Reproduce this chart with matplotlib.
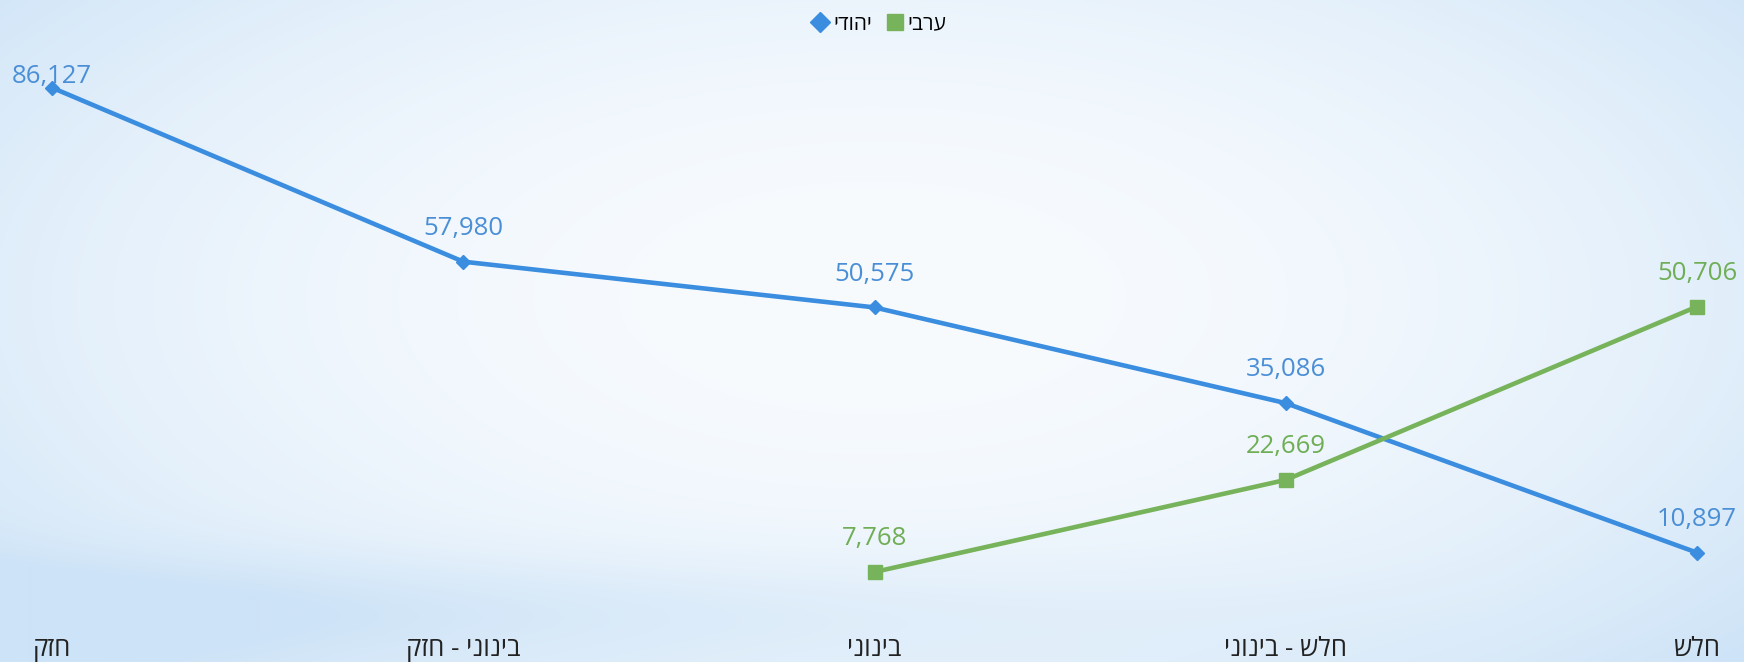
import matplotlib.pyplot as plt
import matplotlib.lines as mlines
import numpy as np

# categories in logical (right-to-left) order: rightmost first
categories = ['חלש', 'חלש - בינוני', 'בינוני', 'בינוני - חזק', 'חזק']
jewish = [10897, 35086, 50575, 57980, 86127]
arab = [50706, 22669, 7768, None, None]
series_names = ['יהודי', 'ערבי']

BLUE = '#3b8ddf'
GREEN = '#77b35a'
BLUE_TXT = '#4a8fd6'
GREEN_TXT = '#6fae55'
FONT = ['Open Sans', 'DejaVu Sans']


def vis(s):
    # matplotlib lays text out left to right, so flip Hebrew to visual order
    return s[::-1]


fig = plt.figure(figsize=(17.44, 6.62), dpi=100)

# soft blue/white backdrop
bg = fig.add_axes([0, 0, 1, 1], zorder=0)
h, w = 331, 872
yy, xx = np.mgrid[0:h, 0:w]
xn = xx / (w - 1)
yn = yy / (h - 1)
wgt = 0.55 * ((xn - 0.5) / 0.5) ** 2 + 0.45 * ((yn - 0.45) / 0.55) ** 2
wgt += 0.45 * np.exp(-((yn - 0.92) / 0.08) ** 2) * np.clip(1.2 - xn * 1.4, 0, 1)
wgt = np.clip(wgt, 0, 1)
white = np.array([248, 251, 254]) / 255
blue = np.array([205, 227, 247]) / 255
img = white[None, None, :] * (1 - wgt[..., None]) + blue[None, None, :] * wgt[..., None]
bg.imshow(img, aspect='auto', extent=[0, 1, 0, 1])
bg.axis('off')

ax = fig.add_axes([0, 32 / 662, 1, 630 / 662], zorder=1)
ax.patch.set_alpha(0)
x = np.arange(len(categories))

ax.plot(x, jewish, color=BLUE, lw=3.3, marker='D', ms=7, zorder=3)
xa = [i for i, v in zip(x, arab) if v is not None]
ya = [v for v in arab if v is not None]
ax.plot(xa, ya, color=GREEN, lw=3.3, marker='s', ms=10, zorder=3)

top = max(jewish)
for i, v in zip(x, jewish):
    dy = 8 if v == top else 24
    ax.annotate(f'{v:,}', (i, v), xytext=(0, dy), textcoords='offset points',
                ha='center', va='center', fontsize=18.5, color=BLUE_TXT, family=FONT)
for i, v in zip(xa, ya):
    ax.annotate(f'{v:,}', (i, v), xytext=(0, 24), textcoords='offset points',
                ha='center', va='center', fontsize=18.5, color=GREEN_TXT, family=FONT)

ax.set_xlim(4 + 52 / 411.25, -47 / 411.25)
ax.set_ylim(-1618, 100316)
ax.set_xticks(x)
ax.set_xticklabels([vis(c) for c in categories], fontsize=18.5, color='#222222', family=FONT)
ax.tick_params(axis='x', length=0, pad=5)
ax.set_yticks([])
for sp in ax.spines.values():
    sp.set_visible(False)

handles = [
    mlines.Line2D([], [], color=BLUE, marker='D', ls='none', ms=10, label=vis(series_names[0])),
    mlines.Line2D([], [], color=GREEN, marker='s', ls='none', ms=12, label=vis(series_names[1])),
]
fig.legend(handles=handles, loc='center', bbox_to_anchor=(878 / 1744, 1 - 24 / 662), ncol=2,
           frameon=False, handletextpad=0.1, columnspacing=0.6, handlelength=1.0,
           prop={'family': FONT, 'size': 15})

fig.savefig('out.png', dpi=100)
